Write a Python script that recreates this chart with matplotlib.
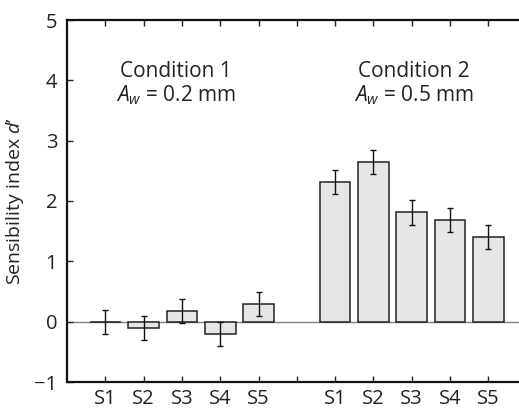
import matplotlib
matplotlib.use("Agg")
import matplotlib.pyplot as plt
import numpy as np

# Dados (d' por sujeito e condição)
sujeitos = ["S1", "S2", "S3", "S4", "S5"]
cond1_valores = [-0.01, -0.10, 0.18, -0.20, 0.30]
cond1_erros = [0.20, 0.20, 0.20, 0.20, 0.20]
cond2_valores = [2.32, 2.64, 1.81, 1.68, 1.40]
cond2_erros = [0.20, 0.20, 0.20, 0.20, 0.20]
yticks = [-1, 0, 1, 2, 3, 4, 5]

plt.rcParams['font.family'] = ['Open Sans', 'DejaVu Sans']
plt.rcParams['mathtext.fontset'] = 'custom'
plt.rcParams['mathtext.rm'] = 'Open Sans'
plt.rcParams['mathtext.it'] = 'Open Sans:italic'

fig = plt.figure(figsize=(5.19, 4.13), dpi=100)
ax = fig.add_axes([67 / 519, 31 / 413, 1 - 67 / 519, 362 / 413])

x1 = np.arange(1, 6)
x2 = np.arange(7, 12)

# Linha do zero
ax.axhline(0, color='#808080', linewidth=1.0, zorder=1)

for xs, vals, errs in [(x1, cond1_valores, cond1_erros), (x2, cond2_valores, cond2_erros)]:
    ax.bar(xs, vals, width=0.8, color='#e6e6e6', edgecolor='#222222', linewidth=1.1, zorder=2)
    ax.errorbar(xs, vals, yerr=errs, fmt='none', ecolor='#111111', elinewidth=1.0,
                capsize=2, capthick=1.0, zorder=3)

ax.set_xlim(0, 11.8)
ax.set_ylim(-1, 5)
ax.set_yticks(yticks)
ax.set_yticklabels([str(v).replace('-', '\u2212') for v in yticks])
ax.set_xticks(list(range(1, 12)))
ax.set_xticklabels(sujeitos + [""] + sujeitos)

ax.tick_params(axis='both', direction='in', length=4, width=1.0, labelsize=14.5, colors='#222222')
ax.tick_params(axis='x', top=True, pad=5)
ax.tick_params(axis='y', pad=7)

for lado in ['left', 'top', 'bottom']:
    ax.spines[lado].set_linewidth(1.6)
    ax.spines[lado].set_color('#111111')
ax.spines['right'].set_visible(False)

ax.set_ylabel("Sensibility index $d$\u2019", fontsize=14, color='#222222', labelpad=6)

ax.text(2.85, 4.15, "Condition 1", ha='center', va='center', fontsize=15, color='#222222')
ax.text(2.85, 3.76, "$A_w$ = 0.2 mm", ha='center', va='center', fontsize=15, color='#222222')
ax.text(9.05, 4.15, "Condition 2", ha='center', va='center', fontsize=15, color='#222222')
ax.text(9.05, 3.76, "$A_w$ = 0.5 mm", ha='center', va='center', fontsize=15, color='#222222')

fig.savefig("out.png", dpi=100)
